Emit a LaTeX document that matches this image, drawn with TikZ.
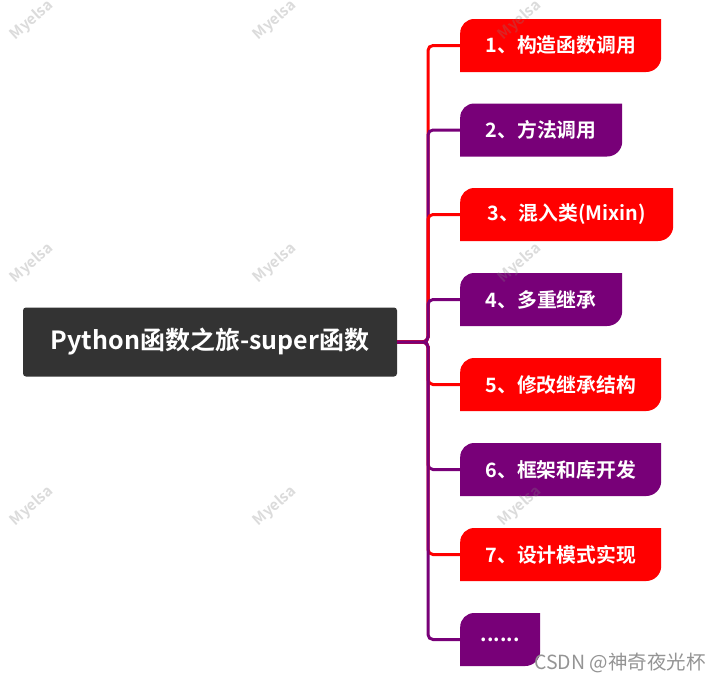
\documentclass[tikz,border=0pt]{standalone}
\usepackage{fontspec}
\setmainfont{Noto Sans CJK SC}[BoldFont={Noto Sans CJK SC Bold}]
\definecolor{mred}{RGB}{255,0,0}
\definecolor{mpurple}{RGB}{120,0,120}
\definecolor{rootgray}{RGB}{51,51,51}
\definecolor{wmgray}{RGB}{128,128,128}
\begin{document}
\begin{tikzpicture}[x=1pt,y=1pt,
  rootbox/.style={fill=rootgray, rounded corners=3pt, minimum width=374pt, minimum height=69pt,
    inner sep=0pt, text=white, font=\bfseries\fontsize{25}{28}\selectfont},
  branch/.style={minimum height=53pt, inner sep=0pt, anchor=west, text=white,
    font=\bfseries\fontsize{19.8}{22}\selectfont,
    path picture={\fill[#1] (path picture bounding box.south west)
        -- ([yshift=-14pt]path picture bounding box.north west)
        arc[start angle=180, end angle=90, radius=14pt]
        -- (path picture bounding box.north east)
        -- ([yshift=15pt]path picture bounding box.south east)
        arc[start angle=0, end angle=-90, radius=15pt]
        -- cycle;}},
  link/.style={line width=3pt, rounded corners=5pt, draw=#1},
  wm/.style={rotate=42, text=wmgray, text opacity=0.28, inner sep=0pt,
    font=\bfseries\fontsize{15}{16}\selectfont},
  csdn/.style={text=black!42, font=\fontsize{19.5}{21}\selectfont, inner sep=0pt}
]
\clip (0,0) rectangle (721,-683);
\fill[white] (0,0) rectangle (721,-683);

\node[rootbox] (root) at (210,-342) {Python函数之旅-super函数};
\coordinate (j) at (428,-342);

\node[branch=mred,    minimum width=201pt] (n1) at (460,-45.5)  {1、构造函数调用};
\node[branch=mpurple, minimum width=162pt] (n2) at (460,-130)   {2、方法调用};
\node[branch=mred,    minimum width=213pt] (n3) at (460,-214.5) {3、混入类(Mixin)};
\node[branch=mpurple, minimum width=162pt] (n4) at (460,-299.5) {4、多重继承};
\node[branch=mred,    minimum width=201pt] (n5) at (460,-384.5) {5、修改继承结构};
\node[branch=mpurple, minimum width=201pt] (n6) at (460,-469.5) {6、框架和库开发};
\node[branch=mred,    minimum width=201pt] (n7) at (460,-554.5) {7、设计模式实现};
\node[branch=mpurple, minimum width=80pt]  (n8) at (460,-639.5) {......};

\draw[link=mred]    (root.east) -- (j) |- (n1.west);
\draw[link=mpurple] (root.east) -- (j) |- (n2.west);
\draw[link=mred]    (root.east) -- (j) |- (n3.west);
\draw[link=mpurple] (root.east) -- (j) |- (n4.west);
\draw[link=mred]    (root.east) -- (j) |- (n5.west);
\draw[link=mpurple] (root.east) -- (j) |- (n6.west);
\draw[link=mred]    (root.east) -- (j) |- (n7.west);
\draw[link=mpurple] (root.east) -- (j) |- (n8.west);

\foreach \wx/\wy [count=\k] in {32/20, 275/20, 520/20, 32/263, 275/263, 520/263, 32/506, 275/506, 520/506}
  \node[wm] (wm\k) at (\wx,-\wy) {Myelsa};

\node[csdn] (csdn) at (620,-663) {CSDN @神奇夜光杯};
\end{tikzpicture}
\end{document}
